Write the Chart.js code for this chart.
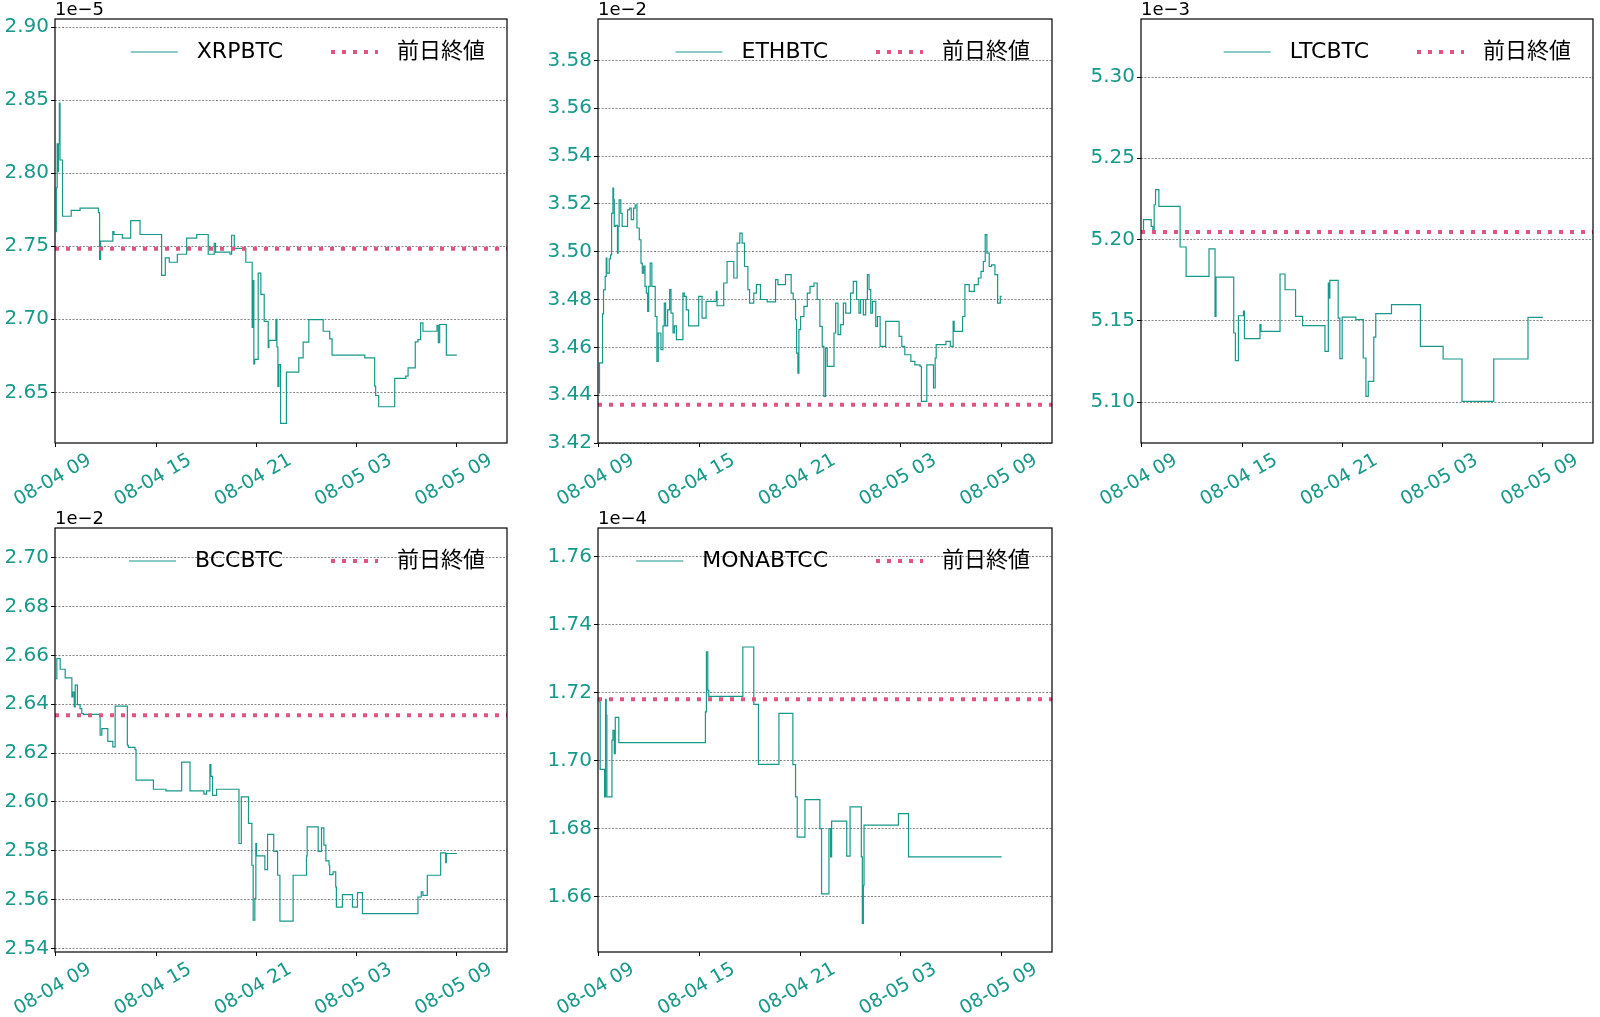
<!DOCTYPE html>
<html lang="ja">
<head>
<meta charset="utf-8">
<title>BTC建て価格 5銘柄</title>
<script src="https://cdn.jsdelivr.net/npm/chart.js@4.4.1/dist/chart.umd.min.js"></script>
<style>
    html, body { margin: 0; padding: 0; background: #fff; }
    #page { position: relative; width: 1600px; height: 1017px; overflow: hidden; }
    .panel { position: absolute; }
</style>
</head>
<body>
<div id="page"></div>
<script>
// ---- data (hours since 08-04 09:00, price in units of the exponent) ----
const symbols = ['XRPBTC', 'ETHBTC', 'LTCBTC', 'BCCBTC', 'MONABTCC'];
const exponents = ['1e\u22125', '1e\u22122', '1e\u22123', '1e\u22122', '1e\u22124'];
const prevClose = [2.7482, 3.436, 5.2046, 2.6355, 1.718];
const prevLabel = '前日終値';

const xTickHours = [0, 6, 12, 18, 24];
const xTickLabels = ['08-04 09', '08-04 15', '08-04 21', '08-05 03', '08-05 09'];

const yTicks = [
    [2.65, 2.70, 2.75, 2.80, 2.85, 2.90],
    [3.42, 3.44, 3.46, 3.48, 3.50, 3.52, 3.54, 3.56, 3.58],
    [5.10, 5.15, 5.20, 5.25, 5.30],
    [2.54, 2.56, 2.58, 2.60, 2.62, 2.64, 2.66, 2.68, 2.70],
    [1.66, 1.68, 1.70, 1.72, 1.74, 1.76]
];
const yLimits = [
    [2.6153, 2.9055],
    [3.42, 3.5973],
    [5.0748, 5.3357],
    [2.5386, 2.7121],
    [1.6437, 1.7684]
];
const xLimits = [-0.05, 27];

// step series: [hour, price] -> price holds until the next entry
const xrpbtc = [
    [0, 2.760], [0.03, 2.790], [0.08, 2.820], [0.12, 2.801], [0.16, 2.820], [0.21, 2.848],
    [0.25, 2.809], [0.40, 2.7705], [0.92, 2.7745], [1.45, 2.776], [2.55, 2.773], [2.62, 2.741],
    [2.68, 2.7535], [3.41, 2.760], [3.48, 2.758], [3.98, 2.7555], [4.48, 2.7675], [5.04, 2.758],
    [6.33, 2.730], [6.55, 2.742], [6.79, 2.739], [7.27, 2.7445], [7.83, 2.7555], [8.43, 2.758],
    [9.12, 2.7445], [9.48, 2.752], [9.56, 2.746], [10.42, 2.7445], [10.52, 2.7575], [10.68, 2.7485],
    [11.37, 2.739], [11.75, 2.6945], [11.79, 2.7265], [11.85, 2.6695], [11.90, 2.6725], [12.11, 2.7315],
    [12.27, 2.717], [12.47, 2.6985], [12.71, 2.6805], [12.75, 2.6855], [13.17, 2.700], [13.23, 2.681],
    [13.29, 2.654], [13.35, 2.669], [13.45, 2.6287], [13.80, 2.6638], [14.54, 2.6736], [14.80, 2.6843],
    [15.14, 2.6998], [16.00, 2.6918], [16.39, 2.6866], [16.53, 2.6754], [18.49, 2.6736], [19.08, 2.6542],
    [19.14, 2.6478], [19.32, 2.6401], [20.28, 2.6595], [20.94, 2.6611], [21.08, 2.6667], [21.51, 2.6845],
    [21.67, 2.6861], [21.83, 2.6975], [21.97, 2.6918], [22.81, 2.6959], [22.89, 2.6839], [22.97, 2.6964],
    [23.37, 2.6754], [24.0, 2.6754]
];
const ethbtc = [
    [0, 3.441], [0.04, 3.4535], [0.22, 3.474], [0.28, 3.484], [0.38, 3.4897], [0.44, 3.4973],
    [0.48, 3.491], [0.62, 3.497], [0.70, 3.4987], [0.76, 3.516], [0.84, 3.5266], [0.88, 3.5217],
    [0.92, 3.5106], [1.00, 3.511], [1.11, 3.4994], [1.15, 3.5106], [1.21, 3.5217], [1.31, 3.516],
    [1.39, 3.5106], [1.71, 3.5175], [1.83, 3.5182], [1.93, 3.5134], [2.07, 3.5182], [2.17, 3.5196],
    [2.27, 3.5099], [2.41, 3.505], [2.51, 3.4952], [2.59, 3.491], [2.67, 3.494], [2.75, 3.4855],
    [2.83, 3.4827], [2.91, 3.475], [2.97, 3.4855], [3.06, 3.4952], [3.16, 3.4855], [3.36, 3.4729],
    [3.46, 3.4541], [3.54, 3.466], [3.70, 3.459], [3.82, 3.469], [3.90, 3.4785], [3.98, 3.469],
    [4.10, 3.4757], [4.22, 3.4841], [4.30, 3.4743], [4.42, 3.466], [4.50, 3.469], [4.62, 3.4632],
    [5.01, 3.4827], [5.09, 3.4813], [5.21, 3.4757], [5.35, 3.469], [5.95, 3.4813], [6.15, 3.4722],
    [6.39, 3.4792], [7.00, 3.4834], [7.04, 3.4774], [7.44, 3.4869], [7.64, 3.4959], [8.04, 3.489],
    [8.24, 3.5036], [8.40, 3.5078], [8.54, 3.5036], [8.68, 3.4938], [8.88, 3.4841], [8.98, 3.4785],
    [9.23, 3.4827], [9.39, 3.4862], [9.63, 3.480], [10.03, 3.479], [10.53, 3.4883], [10.67, 3.4862],
    [11.12, 3.4904], [11.46, 3.4827], [11.58, 3.480], [11.72, 3.4716], [11.78, 3.4576], [11.86, 3.4492],
    [11.92, 3.4674], [12.02, 3.4729], [12.22, 3.4771], [12.42, 3.4827], [12.58, 3.4855], [12.82, 3.4869],
    [13.01, 3.480], [13.17, 3.4688], [13.31, 3.4604], [13.41, 3.4395], [13.51, 3.4597], [13.61, 3.452],
    [14.01, 3.466], [14.11, 3.4785], [14.25, 3.4653], [14.41, 3.4695], [14.57, 3.4785], [14.71, 3.4743],
    [15.00, 3.4827], [15.16, 3.4876], [15.36, 3.480], [15.50, 3.4743], [15.60, 3.480], [15.76, 3.4736],
    [15.90, 3.480], [16.00, 3.4904], [16.10, 3.4841], [16.20, 3.4743], [16.30, 3.4792], [16.50, 3.4688],
    [16.60, 3.4729], [16.76, 3.4604], [17.09, 3.4709], [17.89, 3.4646], [18.05, 3.4604], [18.23, 3.4569],
    [18.59, 3.4541], [18.83, 3.4527], [19.14, 3.452], [19.22, 3.4374], [19.54, 3.4527], [19.94, 3.443],
    [20.04, 3.4555], [20.10, 3.4611], [20.68, 3.4625], [20.94, 3.4604], [21.11, 3.4709], [21.17, 3.4667],
    [21.67, 3.4729], [21.81, 3.4862], [22.07, 3.4834], [22.37, 3.4862], [22.61, 3.489], [22.77, 3.4918],
    [22.91, 3.4959], [23.02, 3.5071], [23.12, 3.4994], [23.26, 3.4938], [23.40, 3.4945], [23.60, 3.4904],
    [23.76, 3.4785], [23.92, 3.4813], [24.0, 3.4813]
];
const ltcbtc = [
    [0, 5.204], [0.10, 5.2122], [0.56, 5.2081], [0.66, 5.206], [0.74, 5.2214], [0.82, 5.2307],
    [1.02, 5.2204], [2.29, 5.1954], [2.65, 5.1773], [4.02, 5.1942], [4.38, 5.1527], [4.44, 5.1769],
    [5.50, 5.1425], [5.60, 5.1255], [5.78, 5.1531], [6.08, 5.156], [6.14, 5.139], [7.07, 5.1476],
    [7.13, 5.1435], [8.27, 5.1788], [8.57, 5.1691], [9.20, 5.1527], [9.62, 5.147], [10.96, 5.1312],
    [11.16, 5.1732], [11.22, 5.164], [11.25, 5.1749], [11.75, 5.1517], [11.85, 5.1267], [11.99, 5.1523],
    [12.81, 5.1507], [13.25, 5.1271], [13.41, 5.1035], [13.55, 5.1127], [13.88, 5.140], [14.00, 5.1544],
    [14.94, 5.1599], [16.67, 5.1343], [18.03, 5.1265], [19.16, 5.1004], [21.06, 5.1265], [23.11, 5.1521],
    [24.0, 5.1521]
];
const bccbtc = [
    [0, 2.6505], [0.06, 2.6587], [0.26, 2.6543], [0.56, 2.6508], [0.96, 2.643], [1.02, 2.645],
    [1.10, 2.6389], [1.16, 2.6478], [1.29, 2.6398], [1.45, 2.6382], [1.55, 2.6362], [1.65, 2.6358],
    [2.65, 2.6273], [2.75, 2.630], [3.11, 2.6248], [3.41, 2.6225], [3.55, 2.6392], [4.28, 2.6232],
    [4.34, 2.6223], [4.74, 2.6214], [4.80, 2.6089], [5.84, 2.6052], [6.59, 2.6045], [7.53, 2.6163],
    [8.03, 2.6045], [8.86, 2.6032], [9.02, 2.6045], [9.22, 2.6153], [9.28, 2.6105], [9.38, 2.6027],
    [9.62, 2.6052], [10.96, 2.583], [11.10, 2.6021], [11.53, 2.5912], [11.73, 2.5741], [11.81, 2.5516],
    [11.91, 2.5605], [11.97, 2.583], [12.01, 2.5779], [12.51, 2.5723], [12.67, 2.5867], [13.04, 2.5798],
    [13.27, 2.570], [13.41, 2.5512], [14.20, 2.570], [15.00, 2.5779], [15.04, 2.5898], [15.70, 2.5798],
    [15.90, 2.5894], [16.04, 2.5823], [16.16, 2.5759], [16.35, 2.5741], [16.39, 2.5703], [16.59, 2.5714],
    [16.75, 2.5652], [16.79, 2.557], [17.15, 2.5621], [17.75, 2.557], [18.05, 2.5629], [18.35, 2.5543],
    [21.67, 2.5611], [21.87, 2.5632], [21.97, 2.5618], [22.23, 2.570], [23.03, 2.5792], [23.33, 2.5752],
    [23.37, 2.5789], [24.0, 2.5789]
];
const monabtcc = [
    [0, 1.7173], [0.08, 1.6974], [0.34, 1.6893], [0.40, 1.718], [0.44, 1.7133], [0.48, 1.6893],
    [0.78, 1.706], [0.84, 1.7089], [0.92, 1.702], [0.98, 1.7127], [1.19, 1.7053], [6.35, 1.7143],
    [6.41, 1.732], [6.49, 1.7207], [6.55, 1.7189], [8.58, 1.7334], [9.23, 1.7165], [9.51, 1.6989],
    [10.73, 1.7139], [11.56, 1.6988], [11.72, 1.6893], [11.82, 1.6775], [12.28, 1.6885], [13.17, 1.680],
    [13.27, 1.6608], [13.71, 1.680], [13.81, 1.6717], [13.87, 1.6822], [14.77, 1.6719], [14.97, 1.6864],
    [15.64, 1.6717], [15.70, 1.6521], [15.76, 1.6633], [15.80, 1.681], [17.85, 1.6844], [18.45, 1.6717],
    [24.0, 1.6717]
];
const series = [xrpbtc, ethbtc, ltcbtc, bccbtc, monabtcc];

// ---- layout / style ----
const panelBoxes = [
    { left: 55, top: 19, right: 507, bottom: 443 },
    { left: 598, top: 19, right: 1052, bottom: 443 },
    { left: 1141, top: 19, right: 1593, bottom: 443 },
    { left: 55, top: 528, right: 507, bottom: 952 },
    { left: 598, top: 528, right: 1052, bottom: 952 }
];
const Y_AXIS_W = 55;
const X_AXIS_H = 70;
const TITLE_H = 19;
const RIGHT_PAD = 10;

const TEAL = '#17998a';
const PINK = '#e0557f';
const GRID = 'rgba(70,70,70,0.8)';
const FONT = '"DejaVu Sans", "Noto Sans CJK JP", sans-serif';

Chart.defaults.font.family = FONT;

// black box round the plot area
const frame = {
    id: 'frame',
    afterDatasetsDraw(chart) {
        const { ctx, chartArea: a } = chart;
        ctx.save();
        ctx.strokeStyle = '#000';
        ctx.lineWidth = 1.2;
        ctx.strokeRect(a.left, a.top, a.right - a.left, a.bottom - a.top);
        ctx.restore();
    }
};

// legend drawn inside the plot, top right, no frame
const insideLegend = {
    id: 'insideLegend',
    afterDraw(chart) {
        const { ctx, chartArea } = chart;
        const items = chart.data.datasets;
        ctx.save();
        ctx.font = '22px ' + FONT;
        ctx.textBaseline = 'middle';
        const y = chartArea.top + 33;
        let x = chartArea.right - 22;
        for (let i = items.length - 1; i >= 0; i--) {
            const ds = items[i];
            const w = ctx.measureText(ds.label).width;
            x -= w;
            ctx.fillStyle = '#000';
            ctx.fillText(ds.label, x, y);
            x -= 19;
            ctx.beginPath();
            ctx.setLineDash(ds.borderDash || []);
            ctx.strokeStyle = ds.borderColor;
            ctx.lineWidth = ds.borderWidth;
            ctx.moveTo(x - 47, y);
            ctx.lineTo(x, y);
            ctx.stroke();
            x -= 47 + 48;
        }
        ctx.restore();
    }
};

function makeChart(i) {
    const box = panelBoxes[i];
    const div = document.createElement('div');
    div.className = 'panel';
    div.style.left = (box.left - Y_AXIS_W) + 'px';
    div.style.top = (box.top - TITLE_H) + 'px';
    div.style.width = (box.right - box.left + Y_AXIS_W + RIGHT_PAD) + 'px';
    div.style.height = (box.bottom - box.top + TITLE_H + X_AXIS_H) + 'px';
    const canvas = document.createElement('canvas');
    div.appendChild(canvas);
    document.getElementById('page').appendChild(div);

    return new Chart(canvas, {
        type: 'line',
        data: {
            datasets: [
                {
                    label: symbols[i],
                    data: series[i].map(p => ({ x: p[0], y: p[1] })),
                    stepped: 'before',
                    borderColor: TEAL,
                    borderWidth: 1.2,
                    pointRadius: 0,
                    fill: false,
                    order: 1
                },
                {
                    label: prevLabel,
                    data: [{ x: xLimits[0], y: prevClose[i] }, { x: xLimits[1], y: prevClose[i] }],
                    borderColor: PINK,
                    borderWidth: 4,
                    borderDash: [4, 7],
                    borderCapStyle: 'butt',
                    pointRadius: 0,
                    fill: false,
                    order: 0
                }
            ]
        },
        options: {
            responsive: true,
            maintainAspectRatio: false,
            animation: false,
            events: [],
            layout: { padding: { left: 0, right: RIGHT_PAD, top: 0, bottom: 0 } },
            plugins: {
                legend: { display: false },
                tooltip: { enabled: false },
                title: {
                    display: true,
                    text: exponents[i],
                    align: 'start',
                    fullSize: false,
                    color: '#000',
                    padding: { top: 2, bottom: 0 },
                    font: { size: 18, weight: 'normal', lineHeight: (TITLE_H - 2) / 18 }
                }
            },
            scales: {
                x: {
                    type: 'linear',
                    bounds: 'data',
                    min: xLimits[0],
                    max: xLimits[1],
                    afterBuildTicks: s => { s.ticks = xTickHours.map(v => ({ value: v })); },
                    afterFit: s => { s.height = X_AXIS_H; s.paddingLeft = 0; s.paddingRight = 0; },
                    border: { display: false },
                    grid: { drawOnChartArea: false, tickColor: '#000', tickLength: 4, tickWidth: 1 },
                    ticks: {
                        autoSkip: false,
                        minRotation: 30,
                        maxRotation: 30,
                        labelOffset: 34,
                        padding: 2,
                        color: TEAL,
                        font: { size: 19 },
                        callback: (v, idx) => xTickLabels[idx]
                    }
                },
                y: {
                    type: 'linear',
                    bounds: 'data',
                    min: yLimits[i][0],
                    max: yLimits[i][1],
                    afterBuildTicks: s => { s.ticks = yTicks[i].map(v => ({ value: v })); },
                    afterFit: s => { s.width = Y_AXIS_W; s.paddingTop = 0; s.paddingBottom = 0; },
                    border: { display: false, dash: [2, 1.5] },
                    grid: {
                        color: GRID,
                        lineWidth: 0.8,
                        borderDash: [2, 1.5],
                        tickColor: '#000',
                        tickLength: 4,
                        tickWidth: 1,
                        tickBorderDash: []
                    },
                    ticks: {
                        color: TEAL,
                        font: { size: 20 },
                        padding: 2,
                        callback: v => v.toFixed(2)
                    }
                }
            }
        },
        plugins: [frame, insideLegend]
    });
}

symbols.forEach((s, i) => makeChart(i));
</script>
</body>
</html>
